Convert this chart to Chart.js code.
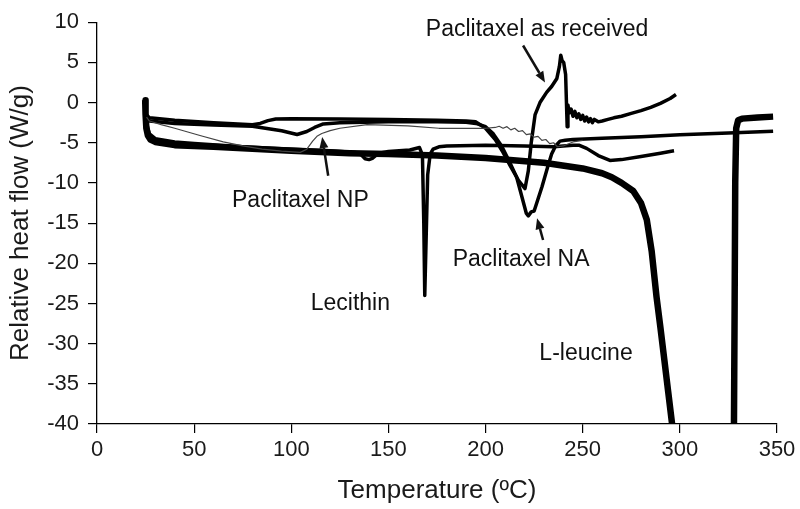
<!doctype html>
<html>
<head>
	<title>DSC thermograms</title>
	<script src="https://cdn.jsdelivr.net/npm/chart.js@4.4.0/dist/chart.umd.min.js"></script>
	<style>
	body { margin: 0; background: #fff; }
	#container { width: 800px; height: 509px; }
	</style>
</head>
<body>
	<div id="container">
		<canvas id="canvas" width="800" height="509"></canvas>
	</div>

	<script>
		// values (temperature in ºC, heat flow in W/g)
		var leucineT = [24.8, 25, 25.4, 26.2, 27.5, 30, 35, 40, 50, 60, 75, 100, 130, 150, 175, 200, 230, 250, 260, 265, 270, 276, 280, 283, 285.5, 288, 290, 292, 294, 296, 296.8, 312, 327.8, 328.2, 328.5, 329, 330, 332, 340, 348];
		var leucineHF = [0.3, -1.5, -3.2, -4.1, -4.6, -4.9, -5.1, -5.3, -5.4, -5.5, -5.7, -6.0, -6.3, -6.4, -6.6, -6.9, -7.5, -8.2, -8.8, -9.3, -10.0, -11.0, -12.5, -14.6, -18.5, -24.2, -28, -32, -36, -40, -42, null, -42, -25, -10, -3.2, -2.2, -2.0, -1.85, -1.75];

		var receivedT = [25.5, 27, 40, 60, 80, 84, 88, 92, 100, 125, 150, 175, 190, 195, 200, 205, 209, 213, 217, 220.3, 222, 223.5, 225.5, 228, 231.5, 234, 236.7, 238, 238.7, 239.4, 240.2, 241.2, 242, 242.4, 243, 244, 245, 246, 247, 248, 249, 250, 251, 252, 253, 254, 255, 256, 258, 260, 263, 266, 270, 275, 280, 285, 290, 295, 298];
		var receivedHF = [-1.5, -1.9, -2.2, -2.5, -2.75, -2.6, -2.25, -2.05, -2.0, -2.05, -2.1, -2.2, -2.3, -2.4, -3.2, -4.6, -6.2, -8.0, -9.7, -10.7, -8.5, -5.0, -1.5, 0.0, 1.3, 2.0, 3.0, 4.5, 5.9, 5.2, 5.0, 3.5, -3.0, -0.3, -1.3, -0.8, -1.7, -1.1, -1.9, -1.4, -2.1, -1.6, -2.3, -1.8, -2.4, -2.0, -2.5, -2.1, -2.4, -2.3, -2.1, -1.9, -1.7, -1.35, -1.0, -0.6, -0.1, 0.5, 1.0];

		var naT = [25.5, 27, 40, 60, 80, 95, 103, 108, 112, 116.5, 125, 150, 175, 190, 195, 200, 204, 208, 212, 216, 219, 221, 222, 223.5, 225, 227, 229, 232, 234, 236, 238.3, 241, 245, 260, 280, 300, 325, 348];
		var naHF = [-1.6, -2.3, -2.6, -2.8, -2.95, -3.5, -3.97, -3.6, -3.1, -2.66, -2.5, -2.4, -2.4, -2.45, -2.6, -3.0, -3.9, -5.3, -7.2, -9.3, -12.0, -13.8, -14.1, -13.6, -13.5, -12.0, -10.5, -8.0, -6.4, -5.4, -4.8, -4.7, -4.6, -4.45, -4.25, -4.0, -3.8, -3.57];

		var npT = [25.5, 27, 33, 40, 53, 65, 75, 85, 95, 104.6, 108, 111, 113.2, 115.7, 120, 125, 139, 160, 176, 187, 200, 205, 207, 209, 211, 213, 215, 217, 219, 221, 223, 225, 227, 229, 231, 233, 235, 237, 240, 245, 250];
		var npHF = [-1.8, -2.3, -2.75, -3.2, -4.1, -4.9, -5.4, -5.8, -6.05, -6.2, -5.8, -4.8, -4.2, -3.85, -3.5, -3.2, -2.75, -2.9, -3.2, -3.2, -3.2, -3.1, -2.95, -3.2, -3.0, -3.4, -3.2, -3.6, -3.5, -4.0, -3.9, -4.3, -4.2, -4.7, -4.6, -5.1, -5.0, -5.5, -5.4, -4.9, -4.7];

		var lecithinT = [25.5, 27, 30, 40, 50, 75, 90, 105, 120, 133, 136, 138, 140, 142, 145, 150, 161, 166, 167.5, 168.2, 168.7, 169.3, 170.2, 171.5, 173, 176, 180, 200, 220, 235, 240, 245, 248, 252, 258, 264, 270, 280, 290, 297];
		var lecithinHF = [-2.5, -3.9, -4.5, -4.9, -5.1, -5.5, -5.7, -5.85, -6.0, -6.2, -6.5, -7.0, -7.1, -6.9, -6.3, -6.1, -5.9, -5.6, -6.5, -15, -24, -18, -9, -6.4, -5.8, -5.5, -5.4, -5.3, -5.4, -5.5, -5.4, -5.3, -5.3, -5.7, -6.6, -7.2, -7.1, -6.7, -6.3, -6.0];

		var xTicks = [0, 50, 100, 150, 200, 250, 300, 350];
		var yTicks = [10, 5, 0, -5, -10, -15, -20, -25, -30, -35, -40];

		// curve labels and arrows, in data units
		var labelText = ['Paclitaxel as received', 'Paclitaxel NP', 'Lecithin', 'Paclitaxel NA', 'L-leucine'];
		var labelAt = [[226.5, 9.1], [104.7, -12.2], [130.4, -25.0], [218.3, -19.5], [251.7, -31.3]];
		var arrowFrom = [[219.3, 7.1], [119.0, -9.1], [229.6, -17.1]];
		var arrowTo = [[230.6, 2.5], [115.9, -4.3], [226.5, -14.4]];

		function pts(t, hf) {
			return t.map(function(v, i) { return {x: v, y: hf[i]}; });
		}

		var FONT = '"Liberation Sans", Arial, sans-serif';

		var notesPlugin = {
			id: 'notes',
			afterDatasetsDraw: function(chart) {
				var ctx = chart.ctx, sx = chart.scales.x, sy = chart.scales.y;
				ctx.save();
				ctx.fillStyle = '#111';
				ctx.font = '23px ' + FONT;
				ctx.textAlign = 'center';
				ctx.textBaseline = 'middle';
				labelText.forEach(function(t, i) {
					ctx.fillText(t, sx.getPixelForValue(labelAt[i][0]), sy.getPixelForValue(labelAt[i][1]));
				});
				ctx.strokeStyle = '#111';
				ctx.lineWidth = 2.5;
				arrowFrom.forEach(function(f, i) {
					var x0 = sx.getPixelForValue(f[0]), y0 = sy.getPixelForValue(f[1]);
					var x1 = sx.getPixelForValue(arrowTo[i][0]), y1 = sy.getPixelForValue(arrowTo[i][1]);
					var a = Math.atan2(y1 - y0, x1 - x0);
					var hl = 11, hw = 4.5;
					var bx = x1 - hl * Math.cos(a), by = y1 - hl * Math.sin(a);
					ctx.beginPath();
					ctx.moveTo(x0, y0);
					ctx.lineTo(bx, by);
					ctx.stroke();
					ctx.beginPath();
					ctx.moveTo(x1, y1);
					ctx.lineTo(bx + hw * Math.sin(a), by - hw * Math.cos(a));
					ctx.lineTo(bx - hw * Math.sin(a), by + hw * Math.cos(a));
					ctx.closePath();
					ctx.fill();
				});
				ctx.restore();
			}
		};

		function line(data, w, col) {
			return {
				data: data,
				borderColor: col || '#000',
				borderWidth: w,
				pointRadius: 0,
				tension: 0,
				spanGaps: false,
				borderJoinStyle: 'round'
			};
		}

		window.onload = function() {
			var ctx = document.getElementById('canvas').getContext('2d');
			window.myChart = new Chart(ctx, {
				type: 'line',
				data: {
					datasets: [
						line(pts(npT, npHF), 1.2, '#444'),
						line(pts(lecithinT, lecithinHF), 3.5),
						line(pts(naT, naHF), 3.5),
						line(pts(receivedT, receivedHF), 3.5),
						line(pts(leucineT, leucineHF), 6.5)
					]
				},
				options: {
					responsive: false,
					animation: false,
					layout: { padding: { left: 0, right: 23, top: 16, bottom: 0 } },
					plugins: {
						legend: { display: false },
						tooltip: { enabled: false }
					},
					scales: {
						x: {
							type: 'linear',
							min: 0,
							max: 350,
							afterBuildTicks: function(s) { s.ticks = xTicks.map(function(v) { return {value: v}; }); },
							afterFit: function(s) { s.height = 85; },
							ticks: { color: '#1a1a1a', font: { family: FONT, size: 22 }, padding: 4, maxRotation: 0 },
							grid: { drawOnChartArea: false, drawTicks: true, tickLength: 9, color: '#000', lineWidth: 1.2 },
							border: { display: true, color: '#000', width: 1.3 },
							title: {
								display: true,
								text: 'Temperature (ºC)',
								color: '#1a1a1a',
								font: { family: FONT, size: 26 },
								padding: { top: 0, bottom: 3 }
							}
						},
						y: {
							type: 'linear',
							min: -40,
							max: 10,
							afterBuildTicks: function(s) { s.ticks = yTicks.map(function(v) { return {value: v}; }); },
							afterFit: function(s) { s.width = 97; },
							ticks: { color: '#1a1a1a', font: { family: FONT, size: 22 }, padding: 9 },
							grid: { drawOnChartArea: false, drawTicks: true, tickLength: 9, color: '#000', lineWidth: 1.2 },
							border: { display: true, color: '#000', width: 1.3 },
							title: {
								display: true,
								text: 'Relative heat flow (W/g)',
								color: '#1a1a1a',
								font: { family: FONT, size: 26 },
								padding: { top: 5, bottom: 0 }
							}
						}
					}
				},
				plugins: [notesPlugin]
			});
		};
	</script>
</body>
</html>
